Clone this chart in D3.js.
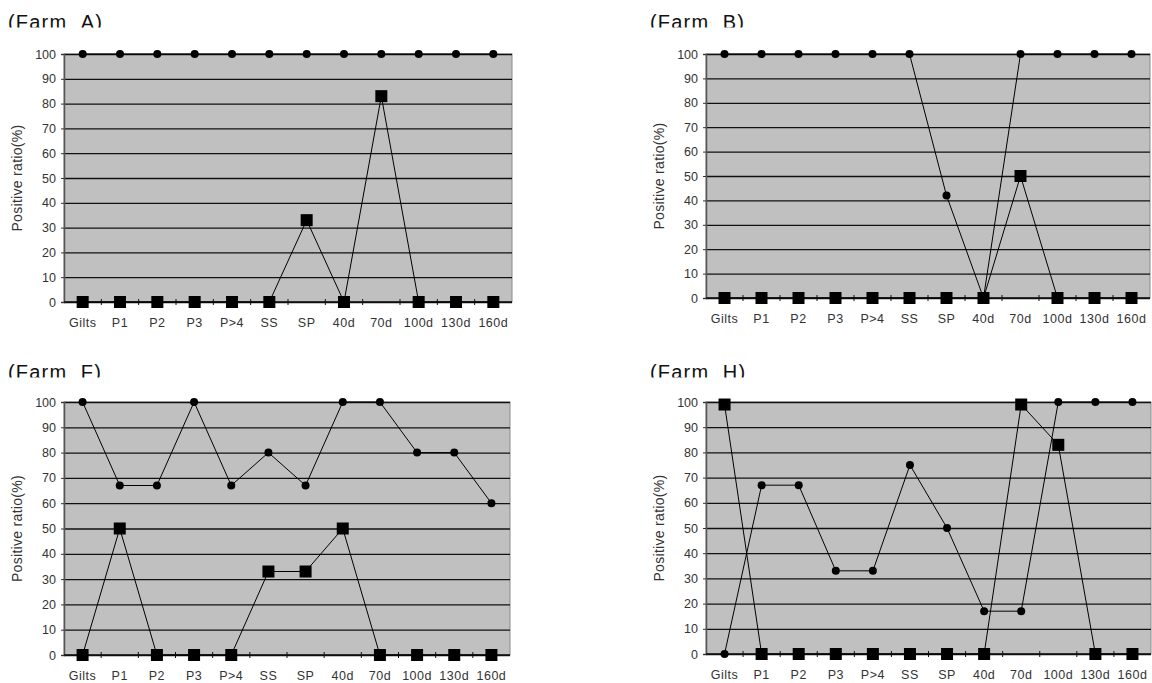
<!DOCTYPE html>
<html>
<head>
<meta charset="utf-8">
<script src="https://cdn.jsdelivr.net/npm/d3@7"></script>
<style>
  body { margin: 0; background: #fff; }
  text { font-family: "Liberation Sans", Arial, sans-serif; }
</style>
</head>
<body>
<svg id="chart" width="1152" height="683"></svg>
<script>
// categories on the x axis
var categories = ["Gilts", "P1", "P2", "P3", "P>4", "SS", "SP", "40d", "70d", "100d", "130d", "160d"];
var yTicks = [0, 10, 20, 30, 40, 50, 60, 70, 80, 90, 100];

// circle series (one per farm)
var farmA_circle = [100, 100, 100, 100, 100, 100, 100, 100, 100, 100, 100, 100];
var farmB_circle = [100, 100, 100, 100, 100, 100, 42, 0, 100, 100, 100, 100];
var farmF_circle = [100, 67, 67, 100, 67, 80, 67, 100, 100, 80, 80, 60];
var farmH_circle = [0, 67, 67, 33, 33, 75, 50, 17, 17, 100, 100, 100];

// square series (one per farm)
var farmA_square = [0, 0, 0, 0, 0, 0, 33, 0, 83, 0, 0, 0];
var farmB_square = [0, 0, 0, 0, 0, 0, 0, 0, 50, 0, 0, 0];
var farmF_square = [0, 50, 0, 0, 0, 33, 33, 50, 0, 0, 0, 0];
var farmH_square = [99, 0, 0, 0, 0, 0, 0, 0, 99, 83, 0, 0];

// panel layout
var panels = [
  {title: "(Farm\u00a0\u00a0A)", tx: 8,   ty: 28.5, left: 64,  right: 512,  top: 54,  bottom: 302, circle: farmA_circle, square: farmA_square},
  {title: "(Farm\u00a0\u00a0B)", tx: 650, ty: 28.5, left: 706, right: 1150, top: 54,  bottom: 298, circle: farmB_circle, square: farmB_square},
  {title: "(Farm\u00a0\u00a0F)", tx: 8,   ty: 378.5, left: 64,  right: 510,  top: 402, bottom: 655, circle: farmF_circle, square: farmF_square},
  {title: "(Farm\u00a0\u00a0H)", tx: 650, ty: 378.5, left: 706, right: 1151, top: 402, bottom: 654, circle: farmH_circle, square: farmH_square}
];

var svg = d3.select("#chart");

panels.forEach(function(p, i) {
  var w = p.right - p.left, h = p.bottom - p.top;

  var x = d3.scaleBand().domain(categories).range([0, w]).padding(0);
  var y = d3.scaleLinear().domain([0, 100]).range([h, 0]);
  var cx = function(d, j) { return x(categories[j]) + x.bandwidth() / 2; };

  // title, bottom slightly clipped like the original
  svg.append("clipPath").attr("id", "clip" + i)
    .append("rect").attr("x", p.tx - 5).attr("y", p.ty - 25).attr("width", 200).attr("height", 24);
  svg.append("text")
    .attr("x", p.tx).attr("y", p.ty)
    .attr("clip-path", "url(#clip" + i + ")")
    .style("font-size", "20px")
    .style("letter-spacing", "1.2px")
    .style("fill", "#111")
    .text(p.title);

  var g = svg.append("g").attr("transform", "translate(" + p.left + "," + p.top + ")");

  g.append("rect")
    .attr("width", w).attr("height", h)
    .style("fill", "#c0c0c0")
    .style("stroke", "#8a8a8a")
    .style("stroke-width", 1);

  // gridlines
  g.append("g")
    .call(d3.axisLeft(y).tickValues(yTicks).tickSize(-w).tickFormat(""))
    .call(function(s) {
      s.select(".domain").remove();
      s.selectAll("line").style("stroke", "#111").style("stroke-width", 1.3);
    });

  // y axis
  g.append("g")
    .call(d3.axisLeft(y).tickValues(yTicks).tickSize(3).tickPadding(5))
    .call(function(s) {
      s.select(".domain").style("stroke", "#555").style("stroke-width", 1.5);
      s.selectAll("line").style("stroke", "#333");
      s.selectAll("text").style("font-size", "12.5px").style("fill", "#333")
        .style("font-family", "'Liberation Sans', Arial, sans-serif");
    });

  // x axis: ticks between categories
  var xa = g.append("g").attr("transform", "translate(0," + h + ")");
  xa.append("line").attr("x1", 0).attr("x2", w)
    .style("stroke", "#111").style("stroke-width", 1.5);
  xa.selectAll(".tk").data(categories.slice(1)).enter().append("line")
    .attr("x1", function(d) { return x(d); }).attr("x2", function(d) { return x(d); })
    .attr("y1", -3).attr("y2", 3)
    .style("stroke", "#111");
  xa.selectAll(".lb").data(categories).enter().append("text")
    .attr("x", function(d) { return x(d) + x.bandwidth() / 2; })
    .attr("y", 25)
    .attr("text-anchor", "middle")
    .style("font-size", "12.5px").style("letter-spacing", "0.5px").style("fill", "#333")
    .text(function(d) { return d; });

  // y title
  svg.append("text")
    .attr("transform", "translate(" + (p.left - 42) + "," + (p.top + h / 2) + ") rotate(-90)")
    .attr("text-anchor", "middle")
    .style("font-size", "14px").style("letter-spacing", "0.3px").style("fill", "#333")
    .text("Positive ratio(%)");

  var line = d3.line().x(cx).y(function(d) { return y(d); });

  // circle series
  g.append("path").datum(p.circle).attr("d", line)
    .style("fill", "none").style("stroke", "#000").style("stroke-width", 1);
  g.selectAll(".dot").data(p.circle).enter().append("circle")
    .attr("cx", cx).attr("cy", function(d) { return y(d); }).attr("r", 4)
    .style("fill", "#000");

  // square series
  g.append("path").datum(p.square).attr("d", line)
    .style("fill", "none").style("stroke", "#000").style("stroke-width", 1);
  g.selectAll(".sq").data(p.square).enter().append("rect")
    .attr("x", function(d, j) { return cx(d, j) - 6; })
    .attr("y", function(d) { return y(d) - 6; })
    .attr("width", 12).attr("height", 12)
    .style("fill", "#000");
});
</script>
</body>
</html>
